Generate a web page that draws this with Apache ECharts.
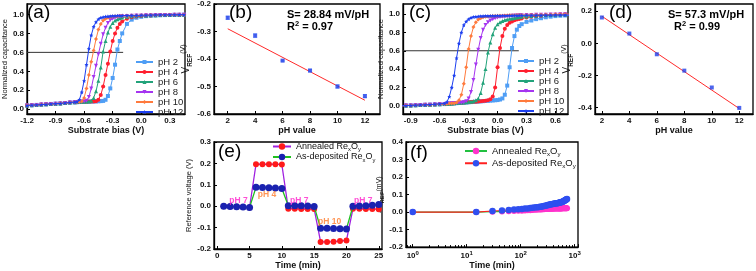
<!DOCTYPE html>
<html><head><meta charset="utf-8">
<script src="https://cdn.jsdelivr.net/npm/echarts@6/dist/echarts.min.js"></script>
<style>html,body{margin:0;padding:0;background:#fff}#c{width:756px;height:271px}</style>
</head><body><div id="c"></div>
<script>
// ================= DATA =================
const phNames = ['pH 2','pH 4','pH 6','pH 8','pH 10','pH 12'];

// (a) normalized capacitance vs substrate bias (as-deposited)
const biasA = [-1.2,-1.15,-1.1,-1.05,-1.0,-0.95,-0.9,-0.85,-0.8,-0.75,
  -0.7,-0.675,-0.65,-0.625,-0.6,-0.575,-0.55,-0.525,-0.5,-0.475,-0.45,-0.425,-0.4,-0.375,-0.35,-0.325,-0.3,-0.275,-0.25,-0.225,-0.2,
  -0.15,-0.1,-0.05,0,0.05,0.1,0.15,0.2,0.25,0.3,0.35,0.4,0.45];
const capA_pH2 = [0.040,0.043,0.046,0.049,0.052,0.056,0.059,0.062,0.066,0.070,
  0.073,0.075,0.076,0.077,0.078,0.079,0.080,0.081,0.082,0.083,0.084,0.086,0.088,0.100,0.140,0.220,0.330,0.470,0.630,0.720,0.800,
  0.900,0.945,0.965,0.975,0.982,0.986,0.989,0.991,0.993,0.994,0.995,0.996,0.997];
const capA_pH4 = [0.040,0.043,0.046,0.049,0.052,0.056,0.059,0.062,0.066,0.070,
  0.074,0.075,0.077,0.078,0.079,0.080,0.081,0.082,0.083,0.085,0.100,0.150,0.240,0.360,0.480,0.610,0.720,0.800,0.860,0.900,0.925,
  0.955,0.970,0.978,0.984,0.988,0.990,0.992,0.993,0.994,0.995,0.996,0.996,0.997];
const capA_pH6 = [0.040,0.043,0.046,0.049,0.052,0.056,0.059,0.062,0.066,0.070,
  0.074,0.076,0.078,0.079,0.080,0.081,0.083,0.090,0.120,0.190,0.300,0.440,0.610,0.720,0.810,0.870,0.910,0.935,0.950,0.960,0.967,
  0.975,0.981,0.985,0.988,0.990,0.991,0.992,0.993,0.994,0.995,0.996,0.996,0.997];
const capA_pH8 = [0.040,0.043,0.046,0.049,0.052,0.056,0.059,0.062,0.066,0.070,
  0.074,0.076,0.078,0.080,0.082,0.090,0.130,0.220,0.340,0.460,0.580,0.690,0.790,0.860,0.910,0.940,0.955,0.965,0.972,0.977,0.980,
  0.984,0.987,0.989,0.990,0.991,0.992,0.993,0.994,0.995,0.995,0.996,0.996,0.997];
const capA_pH10 = [0.041,0.043,0.046,0.049,0.053,0.056,0.059,0.063,0.066,0.070,
  0.074,0.077,0.080,0.085,0.120,0.220,0.360,0.500,0.620,0.740,0.840,0.900,0.935,0.955,0.965,0.972,0.977,0.980,0.982,0.984,0.985,
  0.987,0.989,0.990,0.991,0.992,0.993,0.994,0.995,0.995,0.996,0.996,0.997,0.997];
const capA_pH12 = [0.040,0.043,0.046,0.049,0.052,0.056,0.059,0.062,0.066,0.071,
  0.075,0.080,0.100,0.180,0.300,0.470,0.640,0.780,0.870,0.920,0.950,0.965,0.972,0.977,0.980,0.982,0.984,0.985,0.986,0.987,0.988,
  0.989,0.990,0.990,0.991,0.992,0.993,0.994,0.995,0.995,0.996,0.996,0.997,0.997];
const refLineA_x = [-1.2, -0.19];
const refLevel = 0.6;

// (b) VREF vs pH
const phB = [2,4,6,8,10,12];
const vrefB = [-0.250,-0.315,-0.406,-0.442,-0.500,-0.535];
const errB = [0.006,0.007,0.002,0.005,0.006,0.006];
const fitB_x = [2,12];
const fitB_y = [-0.290,-0.550];

// (c) normalized capacitance vs substrate bias (annealed)
const biasC = [-1.0,-0.95,-0.9,-0.85,-0.8,-0.75,-0.7,-0.65,-0.6,
  -0.55,-0.525,-0.5,-0.475,-0.45,-0.425,-0.4,-0.375,-0.35,-0.325,-0.3,-0.275,-0.25,-0.225,-0.2,-0.175,-0.15,-0.125,-0.1,-0.075,-0.05,-0.025,0,0.025,0.05,0.075,0.1,0.125,0.15,0.175,0.2,0.225,0.25,
  0.3,0.35,0.4,0.45,0.5,0.55,0.6,0.65,0.7,0.75];
const capC_pH2 = [0.000,0.002,0.004,0.006,0.008,0.010,0.012,0.014,0.016,
  0.018,0.020,0.022,0.024,0.026,0.028,0.030,0.032,0.034,0.036,0.038,0.040,0.042,0.044,0.046,0.048,0.050,0.052,0.054,0.056,0.058,0.060,0.062,0.068,0.080,0.120,0.220,0.420,0.630,0.760,0.830,0.870,0.890,
  0.915,0.930,0.945,0.955,0.965,0.972,0.978,0.982,0.985,0.987];
const capC_pH4 = [0.000,0.002,0.004,0.006,0.008,0.010,0.012,0.014,0.017,
  0.019,0.021,0.023,0.025,0.027,0.029,0.031,0.033,0.035,0.037,0.039,0.041,0.043,0.045,0.047,0.049,0.052,0.055,0.060,0.070,0.100,0.200,0.420,0.630,0.760,0.840,0.880,0.905,0.920,0.932,0.940,0.947,0.953,
  0.962,0.970,0.977,0.983,0.988,0.991,0.994,0.996,0.997,0.998];
const capC_pH6 = [0.000,0.002,0.004,0.006,0.008,0.010,0.012,0.014,0.017,
  0.019,0.021,0.023,0.025,0.027,0.029,0.031,0.033,0.035,0.037,0.040,0.044,0.050,0.060,0.080,0.140,0.250,0.400,0.580,0.690,0.780,0.850,0.890,0.910,0.925,0.935,0.942,0.948,0.953,0.958,0.962,0.966,0.970,
  0.975,0.979,0.983,0.986,0.989,0.991,0.993,0.995,0.996,0.997];
const capC_pH8 = [0.000,0.002,0.004,0.006,0.008,0.010,0.012,0.015,0.018,
  0.020,0.022,0.024,0.026,0.028,0.030,0.032,0.034,0.038,0.048,0.080,0.150,0.280,0.450,0.610,0.740,0.830,0.880,0.910,0.930,0.945,0.955,0.962,0.967,0.971,0.974,0.977,0.979,0.981,0.983,0.985,0.986,0.987,
  0.989,0.990,0.992,0.993,0.994,0.995,0.996,0.997,0.998,0.998];
const capC_pH10 = [0.000,0.002,0.004,0.006,0.008,0.010,0.012,0.015,0.018,
  0.020,0.022,0.024,0.026,0.028,0.035,0.060,0.120,0.240,0.420,0.620,0.760,0.860,0.910,0.940,0.955,0.965,0.970,0.975,0.977,0.979,0.980,0.981,0.982,0.983,0.984,0.985,0.986,0.987,0.988,0.989,0.990,0.990,
  0.991,0.992,0.993,0.994,0.995,0.996,0.997,0.997,0.998,0.998];
const capC_pH12 = [0.000,0.002,0.004,0.006,0.008,0.010,0.013,0.016,0.020,
  0.025,0.040,0.100,0.200,0.330,0.520,0.680,0.800,0.880,0.920,0.945,0.960,0.968,0.972,0.975,0.977,0.978,0.979,0.980,0.980,0.981,0.981,0.982,0.982,0.983,0.983,0.984,0.984,0.985,0.985,0.985,0.986,0.986,
  0.987,0.987,0.988,0.988,0.989,0.989,0.990,0.990,0.990,0.990];
const refLineC_x = [-0.98, 0.22];

// (d) VREF vs pH (annealed)
const phD = [2,4,6,8,10,12];
const vrefD = [0.161,0.061,-0.068,-0.170,-0.275,-0.402];
const fitD_x = [2,12];
const fitD_y = [0.169,-0.406];

// (e) reference voltage vs time
const timeE = [1,2,3,4,5,6,7,8,9,10,11,12,13,14,15,16,17,18,19,20,21,22,23,24,25];
const annealedE = [0.000,-0.001,-0.003,-0.004,-0.006, 0.196,0.196,0.196,0.196,0.195, -0.012,-0.012,-0.013,-0.013,-0.013,
  -0.167,-0.167,-0.166,-0.163,-0.160, -0.012,-0.012,-0.013,-0.013,-0.014];
const depositedE = [0.000,-0.001,-0.003,-0.004,-0.006, 0.088,0.087,0.086,0.085,0.083, 0.002,0.002,0.002,0.001,-0.001,
  -0.103,-0.103,-0.104,-0.105,-0.106, 0.000,0.001,0.002,0.004,0.008];
const phLabelsE = ['pH 7','pH 4','pH 7','pH 10','pH 7'];
const phLabelT = [3.3,7.7,12.7,17.4,22.6];
const phLabelV = [0.027,0.054,0.027,-0.072,0.027];

// (f) drift vs time (log)
const timeF = [1,15,30,45,60,75,90,105,120,135,150,165,180,195,210,225,240,255,270,285,300,315,330,345,360,375,390,405,420,435,450,465,480,495,510,525,540,555,570,585,600,615,630,645,660,675,690,705,720];
const depositedF = [0,0.000,0.006,0.009,0.012,0.014,0.016,0.018,0.020,0.021,0.023,0.024,0.026,0.027,0.028,0.030,0.031,0.033,0.034,0.036,0.038,0.040,0.041,0.043,0.044,0.045,0.046,0.047,0.048,0.049,0.050,0.050,0.051,0.052,0.053,0.054,0.055,0.056,0.057,0.058,0.060,0.061,0.063,0.065,0.067,0.069,0.071,0.073,0.075];
const annealedF = [0,0.000,0.002,0.003,0.005,0.006,0.007,0.008,0.009,0.010,0.011,0.012,0.013,0.013,0.014,0.015,0.015,0.016,0.016,0.017,0.017,0.018,0.018,0.018,0.019,0.019,0.019,0.019,0.020,0.020,0.020,0.020,0.020,0.021,0.021,0.021,0.021,0.021,0.021,0.022,0.022,0.022,0.022,0.022,0.022,0.022,0.022,0.022,0.022];

// tick values
const ticksBias = [-1.2,-0.9,-0.6,-0.3,0,0.3];
const ticksBiasC = [-0.9,-0.6,-0.3,0,0.3,0.6];
const ticksCap = [0,0.2,0.4,0.6,0.8,1.0];
const ticksPH = [2,4,6,8,10,12];
const ticksVrefB = [-0.6,-0.5,-0.4,-0.3,-0.2];
const ticksVrefD = [-0.4,-0.2,0,0.2];
const ticksTimeE = [0,5,10,15,20,25];
const ticksRefE = [-0.2,-0.1,0,0.1,0.2,0.3];
const ticksDrift = [-0.2,-0.1,0,0.1,0.2,0.3,0.4];

// ================= CHART =================
const FONT = 'Liberation Sans, Arial, Helvetica, sans-serif';
const chart = echarts.init(document.getElementById('c'), null, {renderer:'canvas', width:756, height:271});

const gridsPx = [
  {left:22, top:4, width:163, height:110},
  {left:214, top:4, width:166, height:110},
  {left:403, top:4, width:165, height:110},
  {left:595, top:4, width:158, height:110},
  {left:214, top:142, width:168, height:111},
  {left:406, top:142, width:172, height:112}
];
const grids = gridsPx.map(g => Object.assign({show:true, borderColor:'#000', borderWidth:1.3, backgroundColor:'transparent'}, g));

const f1 = v => (Math.abs(v) < 1e-9 ? 0 : v).toFixed(1);
const f0 = v => String(Math.round(v));
const labelStyle = {fontSize:8, fontWeight:'bold', color:'#111', fontFamily:FONT, margin:3};
const nameStyle = {fontSize:9, fontWeight:'bold', color:'#111', fontFamily:FONT};

function vAxis(gi, min, max, ticks, fmt, extra) {
  return Object.assign({
    type:'value', gridIndex:gi, min:min, max:max,
    axisLine:{show:true, onZero:false, lineStyle:{color:'#000', width:1.3}},
    axisTick:{show:true, inside:true, length:3, customValues:ticks, lineStyle:{color:'#000', width:1}},
    axisLabel:Object.assign({customValues:ticks, formatter:fmt}, labelStyle),
    splitLine:{show:false}
  }, extra || {});
}

const xAxes = [
  vAxis(0, -1.2, 0.46, ticksBias, f1, {name:'Substrate bias (V)', nameLocation:'middle', nameGap:11, nameTextStyle:nameStyle}),
  vAxis(1, 1, 13.1, ticksPH, f0, {name:'pH value', nameLocation:'middle', nameGap:11, nameTextStyle:nameStyle}),
  vAxis(2, -0.98, 0.73, ticksBiasC, f1, {name:'Substrate bias (V)', nameLocation:'middle', nameGap:11, nameTextStyle:nameStyle}),
  vAxis(3, 1.5, 13.0, ticksPH, f0, {name:'pH value', nameLocation:'middle', nameGap:11, nameTextStyle:nameStyle}),
  vAxis(4, -0.5, 25.5, ticksTimeE, f0, {name:'Time (min)', nameLocation:'middle', nameGap:12, nameTextStyle:nameStyle}),
  {type:'log', gridIndex:5, logBase:10, min:0.75, max:1150,
    axisLine:{show:true, onZero:false, lineStyle:{color:'#000', width:1.3}},
    axisTick:{show:true, inside:true, length:3, lineStyle:{color:'#000'}},
    minorTick:{show:true, splitNumber:9, length:2, lineStyle:{color:'#000'}},
    axisLabel:Object.assign({
      formatter: v => { const e = Math.log10(v); return Math.abs(e - Math.round(e)) < 1e-6 ? '10{sup|' + Math.round(e) + '}' : ''; },
      rich:{sup:{fontSize:6, fontWeight:'bold', fontFamily:FONT, verticalAlign:'top', lineHeight:12, color:'#111'}}
    }, labelStyle),
    splitLine:{show:false},
    name:'Time (min)', nameLocation:'middle', nameGap:13, nameTextStyle:nameStyle}
];

const vrefName = {fontSize:10, fontFamily:FONT, color:'#111', rich:{
  v:{fontSize:10, fontFamily:FONT, color:'#111', lineHeight:14, verticalAlign:'middle'},
  s:{fontSize:6.5, fontWeight:'bold', fontFamily:FONT, color:'#111', lineHeight:14, verticalAlign:'bottom'},
  p:{fontSize:7, fontFamily:FONT, color:'#111', lineHeight:14, verticalAlign:'top'}
}};
const yAxes = [
  vAxis(0, -0.05, 1.11, ticksCap, f1, {name:'Normalized capacitance', nameLocation:'middle', nameGap:13,
    nameTextStyle:{fontSize:7.5, color:'#111', fontFamily:FONT}}),
  vAxis(1, -0.6, -0.2, ticksVrefB, f1, {name:'{v|V}{s|REF}{p|(V)}', nameLocation:'middle', nameGap:17, nameTextStyle:vrefName}),
  vAxis(2, -0.09, 1.11, ticksCap, f1, {name:'Normalized capacitance', nameLocation:'middle', nameGap:14,
    nameTextStyle:{fontSize:7.5, color:'#111', fontFamily:FONT}}),
  vAxis(3, -0.44, 0.245, ticksVrefD, f1, {name:'{v|V}{s|REF}{p|(V)}', nameLocation:'middle', nameGap:19, nameTextStyle:vrefName}),
  vAxis(4, -0.2, 0.3, ticksRefE, f1, {name:'Reference voltage (V)', nameLocation:'middle', nameGap:15,
    nameTextStyle:{fontSize:7.5, color:'#111', fontFamily:FONT}}),
  vAxis(5, -0.2, 0.4, ticksDrift, f1, {name:'{p|\u0394V}{s|REF}{p|(mV)}', nameLocation:'middle', nameGap:14,
    nameTextStyle:{fontSize:7, fontFamily:FONT, color:'#111', rich:{
      p:{fontSize:7, fontFamily:FONT, color:'#111', lineHeight:12, verticalAlign:'middle'},
      s:{fontSize:6, fontWeight:'bold', fontFamily:FONT, color:'#111', lineHeight:12, verticalAlign:'bottom'}
    }}})
];

const phColors = ['#4f9ef5','#ff1f2f','#22a37a','#a535f0','#ff7a3d','#1e40f0'];
const starPath = 'path://M0,-10L2.9,-4L9.5,-3.1L4.8,1.5L5.9,8.1L0,5L-5.9,8.1L-4.8,1.5L-9.5,-3.1L-2.9,-4Z';
const phSymbols = [['rect',0],['circle',0],['triangle',0],['triangle',180],['diamond',0],[starPath,0]];

const series = [];
series.push({type:'line', xAxisIndex:0, yAxisIndex:0, data:refLineA_x.map(x => [x, refLevel]),
  symbol:'none', lineStyle:{color:'#333', width:1}, silent:true, z:1});
series.push({type:'line', xAxisIndex:2, yAxisIndex:2, data:refLineC_x.map(x => [x, refLevel]),
  symbol:'none', lineStyle:{color:'#333', width:1}, silent:true, z:1});

const curvesA = [capA_pH2, capA_pH4, capA_pH6, capA_pH8, capA_pH10, capA_pH12];
const curvesC = [capC_pH2, capC_pH4, capC_pH6, capC_pH8, capC_pH10, capC_pH12];
[[curvesA, biasA, 0], [curvesC, biasC, 2]].forEach(([curves, xs, ai]) => {
  curves.forEach((ys, k) => {
    series.push({type:'line', name:phNames[k], xAxisIndex:ai, yAxisIndex:ai,
      data: xs.map((x, i) => [x, ys[i]]),
      symbol: phSymbols[k][0], symbolRotate: phSymbols[k][1], symbolSize: 4, showSymbol:true,
      lineStyle:{color:phColors[k], width:1}, itemStyle:{color:phColors[k]}, z:2+k});
  });
});

// (b)
series.push({type:'custom', xAxisIndex:1, yAxisIndex:1,
  data: phB.map((p, i) => [p, vrefB[i] - errB[i], vrefB[i] + errB[i]]),
  renderItem: (params, api) => {
    const lo = api.coord([api.value(0), api.value(1)]);
    const hi = api.coord([api.value(0), api.value(2)]);
    const st = {stroke:'#8fb0ff', lineWidth:1};
    return {type:'group', children:[
      {type:'line', shape:{x1:lo[0], y1:lo[1], x2:hi[0], y2:hi[1]}, style:st},
      {type:'line', shape:{x1:lo[0]-2, y1:lo[1], x2:lo[0]+2, y2:lo[1]}, style:st},
      {type:'line', shape:{x1:hi[0]-2, y1:hi[1], x2:hi[0]+2, y2:hi[1]}, style:st}
    ]};
  }, z:3});
series.push({type:'line', xAxisIndex:1, yAxisIndex:1, data:fitB_x.map((x, i) => [x, fitB_y[i]]),
  symbol:'none', lineStyle:{color:'#ff2a2a', width:1}, z:2});
series.push({type:'scatter', xAxisIndex:1, yAxisIndex:1, data:phB.map((p, i) => [p, vrefB[i]]),
  symbol:'rect', symbolSize:4, itemStyle:{color:'#1f3fe8'}, z:4});

// (d)
series.push({type:'line', xAxisIndex:3, yAxisIndex:3, data:fitD_x.map((x, i) => [x, fitD_y[i]]),
  symbol:'none', lineStyle:{color:'#ff2a2a', width:1}, z:2});
series.push({type:'scatter', xAxisIndex:3, yAxisIndex:3, data:phD.map((p, i) => [p, vrefD[i]]),
  symbol:'rect', symbolSize:4, itemStyle:{color:'#1f3fe8'}, z:4});

// (e)
series.push({type:'line', name:'annE', xAxisIndex:4, yAxisIndex:4, data:timeE.map((t, i) => [t, annealedE[i]]),
  symbol:'circle', symbolSize:6, lineStyle:{color:'#a020e0', width:1.3}, itemStyle:{color:'#ff1a1a'}, z:3});
series.push({type:'line', name:'depE', xAxisIndex:4, yAxisIndex:4, data:timeE.map((t, i) => [t, depositedE[i]]),
  symbol:'circle', symbolSize:7, lineStyle:{color:'#1fc01f', width:1.3}, itemStyle:{color:'#1a22b0'}, z:4});
series.push({type:'scatter', xAxisIndex:4, yAxisIndex:4, silent:true, symbolSize:0,
  data: phLabelsE.map((s, i) => ({value:[phLabelT[i], phLabelV[i]], name:s,
    label:{color: s === 'pH 7' ? '#ff22cc' : '#ff7a2a'}})),
  label:{show:true, position:'inside', formatter: p => p.name, fontSize:8.5, fontWeight:'bold', fontFamily:FONT}, z:6});

// (f)
series.push({type:'line', name:'annF', xAxisIndex:5, yAxisIndex:5, data:timeF.map((t, i) => [t, annealedF[i]]),
  symbol:'circle', symbolSize:6, lineStyle:{color:'#22c040', width:1.2}, itemStyle:{color:'#ff33cc'}, z:3});
series.push({type:'line', name:'depF', xAxisIndex:5, yAxisIndex:5, data:timeF.map((t, i) => [t, depositedF[i]]),
  symbol:'circle', symbolSize:6.5, lineStyle:{color:'#ff2020', width:1.2}, itemStyle:{color:'#2f4ff0'}, z:4});

function subRich(fs) {
  return {
    n:{fontSize:fs, fontFamily:FONT, color:'#111', lineHeight:fs + 3, verticalAlign:'middle'},
    s:{fontSize:fs * 0.65, fontFamily:FONT, color:'#111', lineHeight:fs + 3, verticalAlign:'bottom'}
  };
}
const legendNames = {annE:'Annealed', depE:'As-deposited', annF:'Annealed', depF:'As-deposited'};
const reFmt = name => '{n|' + legendNames[name] + ' Re}{s|x}{n|O}{s|y}';

const legends = [
  {orient:'vertical', left:135, top:57, itemWidth:17, itemHeight:5, itemGap:0, padding:0, selectedMode:false,
    textStyle:{fontSize:9.5, lineHeight:9.3, fontFamily:FONT, color:'#222'}, data:phNames},
  {orient:'vertical', left:517, top:56, itemWidth:16, itemHeight:5, itemGap:0, padding:0, selectedMode:false,
    textStyle:{fontSize:9.5, lineHeight:9.3, fontFamily:FONT, color:'#222'}, data:phNames},
  {orient:'vertical', left:272, top:142, itemWidth:18, itemHeight:8, itemGap:0, padding:0, selectedMode:false,
    formatter:reFmt, textStyle:{fontSize:9, rich:subRich(9)}, data:['annE','depE']},
  {orient:'vertical', left:464, top:146, itemWidth:22, itemHeight:8, itemGap:1, padding:0, selectedMode:false,
    formatter:reFmt, textStyle:{fontSize:9.5, rich:subRich(9.5)}, data:['annF','depF']}
];

const big = {fontSize:19, fontFamily:FONT, fill:'#000'};
const statStyle = {fontSize:11, fontWeight:'bold', fontFamily:FONT, fill:'#000'};
function rText(left, top, txt) {
  return {type:'text', left:left, top:top, style:{text:txt, fontSize:11, fontWeight:'bold', fontFamily:FONT, fill:'#000',
    rich:{b:{fontSize:11, fontWeight:'bold', fontFamily:FONT, lineHeight:14}, sup:{fontSize:7.5, fontWeight:'bold', fontFamily:FONT, verticalAlign:'top', lineHeight:14}}}};
}
const graphics = [
  {type:'text', left:27, top:3, style:Object.assign({text:'(a)'}, big)},
  {type:'text', left:229, top:3, style:Object.assign({text:'(b)'}, big)},
  {type:'text', left:409, top:3, style:Object.assign({text:'(c)'}, big)},
  {type:'text', left:609, top:3, style:Object.assign({text:'(d)'}, big)},
  {type:'text', left:218, top:142, style:Object.assign({text:'(e)'}, big)},
  {type:'text', left:410, top:143, style:Object.assign({text:'(f)'}, big)},
  {type:'text', left:287, top:9, style:Object.assign({text:'S= 28.84 mV/pH'}, statStyle)},
  rText(287, 20, '{b|R}{sup|2}{b| = 0.97}'),
  {type:'text', left:668, top:9, style:Object.assign({text:'S= 57.3 mV/pH'}, statStyle)},
  rText(674, 20, '{b|R}{sup|2}{b| = 0.99}')
];

chart.setOption({
  animation:false,
  backgroundColor:'#fff',
  textStyle:{fontFamily:FONT},
  grid:grids, xAxis:xAxes, yAxis:yAxes, series:series, legend:legends, graphic:graphics
});
</script></body></html>
